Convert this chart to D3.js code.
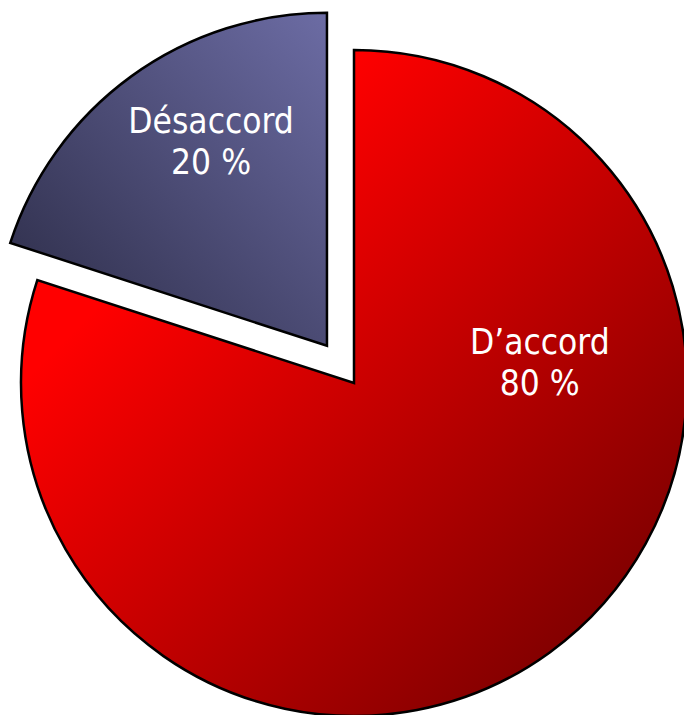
<!DOCTYPE html>
<html>
<head>
<meta charset="utf-8">
<script src="https://cdn.jsdelivr.net/npm/d3@7"></script>
<style>
  body { margin: 0; background: #fff; }
  text { font-family: "DejaVu Sans Condensed", "DejaVu Sans", sans-serif; font-stretch: condensed; }
</style>
</head>
<body>
<div id="chart"></div>
<script>
let w = 684;
let h = 715;

// data
const categories = ["D\u2019accord", "Désaccord"];
const values = [80, 20];
const valueLabels = ["80 %", "20 %"];

// look of each slice (gradient stops along the bounding box diagonal)
const gradStops = [
  { from: "#ff0000", to: "#800000", o1: 0.25, o2: 0.87, x1: 0, y1: 0, x2: 1, y2: 1 },
  { from: "#6c6ca4", to: "#2a2a44", o1: 0, o2: 1, x1: 1, y1: 0, x2: 0, y2: 1 }
];
const explode = [0, 46];
// label anchor: polar offset from slice centre (degrees clockwise from top, px)
const labelPolar = [[87.2, 186], [-31, 225]];

const cx = 354, cy = 383, r = 333;

const svg = d3.select("#chart").append("svg").attr("width", w).attr("height", h);

const defs = svg.append("defs");
gradStops.forEach(function (g, i) {
  const lg = defs.append("linearGradient").attr("id", "grad" + i)
    .attr("x1", g.x1).attr("y1", g.y1).attr("x2", g.x2).attr("y2", g.y2);
  lg.append("stop").attr("offset", g.o1).attr("stop-color", g.from);
  lg.append("stop").attr("offset", g.o2).attr("stop-color", g.to);
});

const pie = d3.pie().sort(null).value(function (d) { return d; });
const arc = d3.arc().innerRadius(0).outerRadius(r);
const arcs = pie(values);

const container = svg.append("g").attr("transform", "translate(" + cx + "," + cy + ")");

const slices = container.selectAll("g.slice")
  .data(arcs)
  .enter()
  .append("g")
  .attr("class", "slice")
  .attr("transform", function (d, i) {
    const a = (d.startAngle + d.endAngle) / 2;
    return "translate(" + (Math.sin(a) * explode[i]) + "," + (-Math.cos(a) * explode[i]) + ")";
  });

slices.append("path")
  .attr("d", arc)
  .attr("fill", function (d, i) { return "url(#grad" + i + ")"; })
  .attr("stroke", "#000")
  .attr("stroke-width", 2.5)
  .attr("stroke-linejoin", "miter");

// labels
slices.each(function (d, i) {
  const a = labelPolar[i][0] * Math.PI / 180;
  const lx = Math.sin(a) * labelPolar[i][1];
  const ly = -Math.cos(a) * labelPolar[i][1];
  const t = d3.select(this).append("text")
    .attr("text-anchor", "middle")
    .attr("fill", "#fff")
    .attr("font-size", 35);
  t.append("tspan").attr("x", lx).attr("y", ly - 20).text(categories[i]);
  t.append("tspan").attr("x", lx).attr("y", ly + 21).text(valueLabels[i]);
});
</script>
</body>
</html>
